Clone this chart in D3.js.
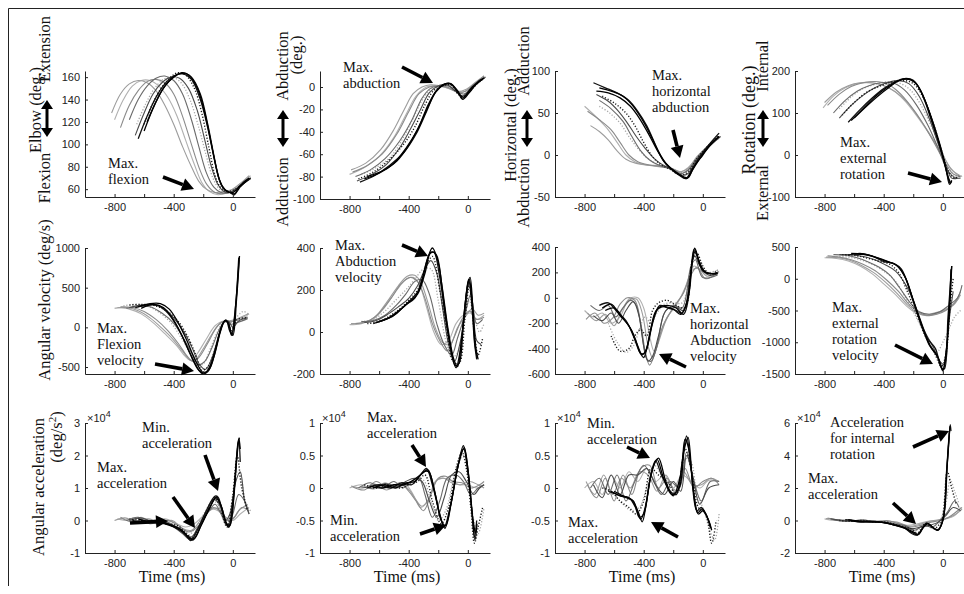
<!DOCTYPE html>
<html>
<head>
<meta charset="utf-8">
<script src="https://cdn.jsdelivr.net/npm/d3@7"></script>
<style>
  body { margin: 0; background: #fff; }
  svg { display: block; }
  .serif { font-family: "Liberation Serif", "Times New Roman", serif; fill: #111; }
  .axis text { font-family: "Liberation Sans", Arial, sans-serif; font-size: 11px; fill: #222; }
  .axis path, .axis line { stroke: #222; }
</style>
</head>
<body>
<div id="viz"></div>
<script>
// ---- data: each panel is a list of trials, each trial is [time (ms), value] ----
// trial order in every panel: light greys first, then greys, dotted, blacks last
const elbowAngle = [
  [[-800,122],[-740,140],[-680,152],[-620,157],[-560,157],[-500,152],[-440,142],[-380,126],[-320,104],[-260,82],[-210,66],[-160,58],[-100,55],[-40,57],[20,62],[80,68],[120,72]],
  [[-820,128],[-760,145],[-700,154],[-640,157],[-580,155],[-520,148],[-460,135],[-400,118],[-340,98],[-280,80],[-230,67],[-180,60],[-120,57],[-60,58],[0,60],[60,66],[110,72]],
  [[-650,118],[-590,136],[-530,150],[-470,158],[-410,160],[-350,155],[-290,140],[-230,115],[-180,90],[-135,70],[-90,60],[-40,57],[10,58],[60,64],[120,70]],
  [[-760,115],[-700,135],[-640,148],[-580,156],[-520,158],[-460,155],[-400,145],[-340,125],[-280,100],[-225,78],[-175,64],[-120,57],[-60,56],[0,58],[60,64],[120,70]],
  [[-700,122],[-640,140],[-580,152],[-520,159],[-460,161],[-400,157],[-340,145],[-280,122],[-230,98],[-180,75],[-130,62],[-80,57],[-30,57],[20,60],[80,66],[120,70]],
  [[-660,108],[-600,128],[-540,145],[-480,155],[-420,160],[-360,159],[-300,150],[-240,130],[-190,104],[-145,80],[-100,64],[-60,58],[-20,57],[30,61],[90,67],[120,69]],
  [[-600,118],[-540,137],[-480,151],[-420,160],[-370,164],[-320,162],[-260,150],[-210,128],[-160,96],[-120,72],[-80,61],[-40,58],[0,59],[50,63],[110,69]],
  [[-640,105],[-580,125],[-520,142],[-460,154],[-400,161],[-340,163],[-280,158],[-220,140],[-170,115],[-130,90],[-95,70],[-60,60],[-20,57],[10,55],[40,62],[80,66],[120,70]],
  [[-600,112],[-540,132],[-480,148],[-420,158],[-360,163],[-300,162],[-240,150],[-190,128],[-145,100],[-110,78],[-75,63],[-40,58],[0,57],[30,60],[70,66],[110,70]],
  [[-580,120],[-520,138],[-460,152],[-400,160],[-340,164],[-280,160],[-220,145],[-170,118],[-125,88],[-90,68],[-55,60],[-20,57],[15,56],[50,62],[100,68]]
];
const abductionAngle = [
  [[-800,-78],[-700,-72],[-600,-62],[-500,-45],[-420,-25],[-350,-8],[-280,0],[-220,1],[-160,0],[-100,-3],[-40,-5],[20,0],[100,8]],
  [[-790,-74],[-690,-68],[-590,-56],[-500,-38],[-430,-20],[-370,-6],[-310,0],[-250,2],[-190,1],[-130,-1],[-70,-4],[-10,-2],[50,4],[110,10]],
  [[-720,-78],[-620,-72],[-520,-62],[-440,-46],[-370,-28],[-310,-12],[-250,-2],[-190,2],[-130,1],[-70,-4],[-20,-6],[40,2],[110,9]],
  [[-780,-76],[-680,-70],[-580,-60],[-480,-42],[-400,-22],[-330,-6],[-260,0],[-200,1],[-140,0],[-80,-4],[-20,-4],[40,2],[110,10]],
  [[-760,-80],[-660,-74],[-560,-64],[-460,-48],[-380,-30],[-310,-10],[-250,-1],[-190,1],[-130,1],[-70,-5],[-20,-6],[40,2],[110,8]],
  [[-750,-84],[-650,-78],[-550,-69],[-460,-54],[-390,-38],[-320,-20],[-260,-5],[-200,1],[-140,2],[-90,-3],[-40,-8],[20,-2],[90,6],[120,9]],
  [[-740,-82],[-640,-76],[-540,-66],[-440,-52],[-360,-36],[-290,-16],[-230,-3],[-170,1],[-120,2],[-60,-7],[-20,-8],[40,0],[110,8]],
  [[-730,-85],[-630,-79],[-530,-70],[-430,-58],[-350,-42],[-280,-22],[-220,-5],[-160,2],[-120,3],[-70,-3],[-35,-10],[20,-2],[80,6],[110,8]],
  [[-700,-82],[-600,-77],[-500,-68],[-420,-55],[-340,-38],[-270,-18],[-210,-3],[-150,3],[-110,2],[-60,-6],[-30,-9],[30,0],[100,7]],
  [[-680,-80],[-580,-75],[-480,-66],[-400,-52],[-330,-35],[-265,-15],[-205,-2],[-150,3],[-115,3],[-70,-4],[-35,-11],[10,-5],[60,3],[110,8]]
];
const horizAngle = [
  [[-800,58],[-720,45],[-640,30],[-580,15],[-520,0],[-460,-8],[-380,-12],[-300,-14],[-220,-16],[-150,-20],[-100,-15],[-40,-3],[20,8],[100,22]],
  [[-760,35],[-700,28],[-640,18],[-580,5],[-520,-5],[-450,-10],[-370,-12],[-290,-13],[-210,-16],[-150,-20],[-100,-16],[-40,-2],[30,10],[110,20]],
  [[-700,58],[-630,50],[-560,38],[-500,22],[-440,8],[-380,-3],[-320,-10],[-250,-15],[-180,-20],[-120,-20],[-70,-12],[-10,0],[60,14],[120,22]],
  [[-780,52],[-700,42],[-620,30],[-560,15],[-500,0],[-440,-8],[-360,-12],[-280,-14],[-200,-17],[-140,-22],[-90,-16],[-30,-2],[40,10],[110,22]],
  [[-700,65],[-620,55],[-540,40],[-480,22],[-420,5],[-360,-6],[-300,-12],[-220,-16],[-150,-22],[-100,-18],[-40,-4],[30,10],[110,22]],
  [[-720,72],[-640,64],[-570,52],[-510,38],[-450,22],[-390,8],[-330,-4],[-270,-12],[-200,-18],[-140,-24],[-100,-22],[-50,-8],[10,4],[80,16],[120,22]],
  [[-680,70],[-600,62],[-520,50],[-460,35],[-400,15],[-340,-2],[-280,-12],[-220,-17],[-150,-24],[-100,-20],[-40,-4],[30,10],[110,24]],
  [[-740,86],[-660,80],[-580,74],[-500,65],[-440,52],[-380,35],[-320,12],[-270,-6],[-220,-16],[-160,-24],[-115,-28],[-70,-16],[-20,-2],[40,12],[110,26]],
  [[-700,80],[-620,76],[-540,70],[-480,60],[-420,45],[-360,26],[-300,4],[-250,-10],[-190,-20],[-130,-26],[-100,-27],[-60,-14],[0,0],[60,14],[110,22]],
  [[-720,76],[-640,74],[-560,68],[-490,58],[-430,44],[-370,26],[-310,6],[-260,-8],[-200,-18],[-145,-25],[-110,-28],[-70,-18],[-20,-4],[40,10],[110,22]]
];
const rotationAngle = [
  [[-810,112],[-740,140],[-660,160],[-580,170],[-500,172],[-420,168],[-340,155],[-260,130],[-180,95],[-100,55],[-20,10],[50,-30],[110,-50],[130,-50]],
  [[-800,125],[-720,150],[-640,165],[-560,172],[-480,172],[-400,165],[-320,150],[-240,125],[-160,88],[-80,45],[0,0],[60,-35],[120,-50]],
  [[-700,110],[-620,138],[-540,158],[-460,168],[-380,174],[-300,172],[-220,155],[-150,120],[-80,70],[-20,20],[40,-30],[90,-52],[130,-50]],
  [[-780,118],[-700,145],[-620,163],[-540,172],[-460,175],[-380,170],[-300,150],[-220,118],[-140,78],[-60,30],[10,-15],[70,-45],[120,-52]],
  [[-740,100],[-660,130],[-580,152],[-500,165],[-420,172],[-340,172],[-260,155],[-180,120],[-100,70],[-30,15],[30,-35],[90,-55],[120,-55]],
  [[-700,88],[-620,118],[-540,142],[-460,160],[-380,172],[-300,177],[-230,170],[-160,140],[-90,85],[-30,25],[20,-25],[60,-55],[100,-55]],
  [[-680,95],[-600,125],[-520,148],[-440,162],[-360,172],[-280,178],[-200,170],[-130,135],[-60,70],[0,0],[40,-40],[80,-55],[110,-50]],
  [[-640,78],[-560,108],[-480,135],[-400,158],[-320,175],[-260,182],[-200,178],[-140,145],[-80,85],[-20,20],[20,-30],[45,-70],[60,-60]],
  [[-600,88],[-520,115],[-440,140],[-360,162],[-290,178],[-230,180],[-170,165],[-110,120],[-50,60],[0,0],[30,-45],[50,-65]],
  [[-620,82],[-540,110],[-460,138],[-380,160],[-310,175],[-250,182],[-190,174],[-130,138],[-70,78],[-15,15],[25,-40],[50,-68],[60,-62]]
];
const elbowVel = [
  [[-780,250],[-700,230],[-620,170],[-540,60],[-460,-80],[-380,-230],[-320,-370],[-280,-420],[-240,-330],[-180,-150],[-120,20],[-60,80],[-20,60],[30,100],[100,150]],
  [[-800,240],[-720,250],[-640,210],[-560,120],[-480,-10],[-400,-160],[-340,-300],[-290,-410],[-250,-400],[-200,-270],[-140,-80],[-80,60],[-30,80],[20,100],[80,150],[110,170]],
  [[-740,270],[-660,290],[-580,270],[-500,190],[-420,60],[-350,-130],[-290,-320],[-240,-480],[-200,-460],[-150,-260],[-100,-40],[-60,80],[-20,60],[20,120],[70,200],[110,160]],
  [[-760,260],[-680,250],[-600,200],[-520,100],[-440,-40],[-370,-200],[-310,-360],[-270,-430],[-230,-380],[-170,-200],[-110,0],[-60,80],[-20,70],[30,90],[100,130]],
  [[-720,240],[-640,260],[-560,260],[-480,180],[-400,50],[-330,-150],[-270,-350],[-230,-470],[-190,-430],[-140,-250],[-90,-20],[-50,70],[-15,40],[30,60],[100,110]],
  [[-700,250],[-620,280],[-540,290],[-470,240],[-400,120],[-330,-60],[-270,-280],[-225,-470],[-185,-530],[-140,-380],[-95,-100],[-60,70],[-30,80],[0,0],[40,80],[100,120]],
  [[-700,280],[-620,290],[-540,280],[-460,220],[-380,100],[-310,-100],[-250,-350],[-210,-540],[-170,-500],[-120,-280],[-70,40],[-40,80],[-10,-40],[30,100],[100,120]],
  [[-660,250],[-580,280],[-500,270],[-440,180],[-380,20],[-320,-200],[-260,-440],[-210,-580],[-170,-560],[-130,-380],[-90,-80],[-55,80],[-30,60],[-10,-100],[15,200],[40,880]],
  [[-620,240],[-540,290],[-470,250],[-410,120],[-350,-80],[-290,-330],[-230,-540],[-190,-580],[-150,-470],[-110,-220],[-70,40],[-45,90],[-20,-50],[0,-100],[25,350],[45,900]],
  [[-640,260],[-560,300],[-490,300],[-430,230],[-370,60],[-310,-170],[-250,-430],[-200,-570],[-160,-530],[-120,-320],[-80,-30],[-50,90],[-25,20],[-5,-90],[20,300],[42,850]]
];
const abductionVel = [
  [[-800,35],[-720,40],[-640,60],[-560,120],[-480,200],[-420,250],[-370,260],[-330,230],[-280,120],[-230,0],[-180,-60],[-130,-40],[-80,40],[-30,80],[20,90],[60,60],[110,80]],
  [[-790,40],[-710,45],[-630,70],[-550,140],[-470,220],[-410,265],[-360,270],[-320,240],[-270,140],[-220,20],[-170,-50],[-120,-60],[-70,20],[-20,70],[30,110],[70,80],[110,90]],
  [[-720,50],[-640,60],[-560,100],[-490,150],[-420,200],[-360,250],[-300,300],[-250,300],[-200,150],[-150,-40],[-110,-120],[-70,-100],[-30,40],[10,150],[40,80],[80,0],[110,40]],
  [[-760,40],[-680,50],[-600,90],[-520,160],[-450,230],[-390,260],[-340,240],[-290,160],[-240,40],[-190,-40],[-140,-90],[-90,-20],[-40,60],[10,100],[60,60],[110,70]],
  [[-720,50],[-640,55],[-560,80],[-480,130],[-420,180],[-360,240],[-310,250],[-260,180],[-210,40],[-160,-60],[-110,-110],[-70,-30],[-20,80],[20,180],[60,40],[100,60]],
  [[-700,45],[-620,55],[-540,85],[-470,120],[-400,160],[-340,220],[-290,300],[-250,340],[-210,280],[-170,110],[-130,-60],[-90,-140],[-55,-60],[-20,80],[10,240],[35,120],[60,-40],[90,-60]],
  [[-680,40],[-600,50],[-520,80],[-460,110],[-400,150],[-340,200],[-290,300],[-240,360],[-190,200],[-140,0],[-100,-140],[-60,-150],[-20,60],[10,220],[40,20],[70,-110],[100,-30]],
  [[-640,40],[-560,60],[-480,90],[-420,130],[-360,160],[-310,250],[-260,370],[-230,380],[-190,260],[-150,60],[-110,-100],[-80,-170],[-50,-80],[-20,120],[5,250],[25,150],[45,-50],[60,-130]],
  [[-600,50],[-520,70],[-450,110],[-390,150],[-330,200],[-280,330],[-240,400],[-200,330],[-160,130],[-120,-60],[-85,-160],[-60,-150],[-30,40],[0,230],[15,260],[35,100],[55,-80],[70,-130]],
  [[-620,45],[-540,65],[-470,100],[-400,140],[-340,180],[-290,280],[-250,380],[-215,370],[-175,220],[-135,20],[-95,-130],[-70,-165],[-40,-20],[-10,180],[10,250],[30,130],[50,-70],[65,-125]]
];
const horizVel = [
  [[-800,-100],[-740,-150],[-680,-120],[-620,-200],[-560,-150],[-500,-10],[-440,0],[-400,-80],[-360,-300],[-330,-420],[-290,-300],[-240,-150],[-180,-60],[-120,80],[-60,250],[-20,220],[40,180],[110,200]],
  [[-780,-120],[-720,-180],[-660,-130],[-600,-220],[-550,-100],[-500,-20],[-450,-10],[-410,-120],[-370,-380],[-340,-470],[-300,-350],[-250,-180],[-190,-60],[-130,40],[-70,220],[-30,230],[30,170],[110,210]],
  [[-640,-200],[-580,-350],[-520,-430],[-470,-380],[-430,-250],[-390,-150],[-350,-200],[-310,-120],[-260,-50],[-200,-40],[-140,-40],[-90,150],[-60,320],[-20,280],[30,200],[100,220]],
  [[-790,-170],[-730,-120],[-670,-200],[-610,-160],[-560,-50],[-510,0],[-460,-20],[-420,-200],[-390,-420],[-360,-530],[-320,-420],[-270,-220],[-200,-80],[-140,20],[-80,180],[-40,240],[20,150],[100,200]],
  [[-760,-60],[-700,-100],[-640,-60],[-590,-150],[-540,-80],[-490,-20],[-450,-60],[-410,-300],[-380,-480],[-350,-500],[-310,-380],[-260,-120],[-200,-60],[-140,-80],[-80,250],[-50,300],[0,160],[100,180]],
  [[-740,-140],[-680,-180],[-620,-120],[-570,-200],[-520,-100],[-470,-30],[-430,-150],[-400,-380],[-370,-500],[-340,-460],[-300,-300],[-250,-100],[-190,-70],[-130,-100],[-90,150],[-55,330],[-20,250],[40,180],[100,190]],
  [[-620,-300],[-560,-420],[-500,-400],[-460,-300],[-420,-250],[-380,-300],[-340,-100],[-300,-40],[-240,-20],[-180,-60],[-120,-80],[-70,300],[-40,350],[0,250],[50,180],[100,220]],
  [[-700,-60],[-640,-40],[-580,-110],[-520,-180],[-470,-300],[-430,-420],[-400,-470],[-370,-350],[-330,-150],[-290,-60],[-240,-80],[-180,-100],[-130,-130],[-90,60],[-60,380],[-30,300],[0,210],[60,190],[100,200]],
  [[-660,-100],[-600,-80],[-540,-160],[-480,-260],[-440,-380],[-410,-450],[-380,-400],[-340,-200],[-300,-80],[-240,-60],[-180,-80],[-140,-120],[-100,0],[-70,300],[-50,370],[-20,260],[20,200],[100,190]],
  [[-680,-80],[-620,-50],[-560,-140],[-500,-220],[-450,-350],[-420,-440],[-390,-430],[-355,-260],[-315,-100],[-260,-70],[-200,-90],[-150,-130],[-110,-40],[-80,200],[-55,390],[-25,290],[10,210],[70,190],[100,195]]
];
const rotationVel = [
  [[-800,330],[-720,320],[-640,280],[-560,200],[-480,80],[-400,-80],[-320,-250],[-250,-420],[-180,-540],[-120,-570],[-60,-540],[0,-500],[60,-420],[110,-300]],
  [[-790,340],[-710,330],[-630,290],[-550,210],[-470,100],[-390,-50],[-310,-230],[-240,-410],[-170,-540],[-110,-580],[-50,-550],[10,-500],[70,-420],[120,-250]],
  [[-720,350],[-640,340],[-560,300],[-480,230],[-400,120],[-320,-40],[-240,-350],[-170,-650],[-100,-950],[-40,-1150],[0,-1000],[40,-800],[80,-600],[120,-500]],
  [[-780,360],[-700,340],[-620,300],[-540,230],[-460,130],[-380,-20],[-300,-200],[-230,-400],[-160,-530],[-100,-580],[-40,-560],[20,-500],[80,-380],[120,-200]],
  [[-740,380],[-660,370],[-580,330],[-500,260],[-430,180],[-360,60],[-290,-150],[-220,-380],[-160,-520],[-90,-560],[-20,-520],[40,-420],[100,-300],[130,-100]],
  [[-700,380],[-620,380],[-540,350],[-460,300],[-390,220],[-320,120],[-250,-100],[-190,-400],[-130,-800],[-70,-1050],[-20,-1300],[10,-1350],[40,-700],[70,-200]],
  [[-680,380],[-600,370],[-520,330],[-440,280],[-360,230],[-300,100],[-240,-200],[-180,-550],[-120,-900],[-60,-1150],[-10,-1380],[20,-1200],[50,-400],[70,0]],
  [[-640,370],[-560,400],[-480,360],[-400,270],[-330,240],[-280,150],[-220,-200],[-160,-600],[-100,-950],[-50,-1100],[-10,-1400],[10,-1420],[35,-600],[60,200]],
  [[-620,400],[-540,390],[-460,340],[-390,280],[-320,220],[-260,50],[-200,-350],[-140,-750],[-90,-1050],[-40,-1200],[0,-1450],[20,-1200],[45,-400],[55,150]],
  [[-600,390],[-520,380],[-440,330],[-370,270],[-310,210],[-250,0],[-190,-420],[-130,-820],[-80,-1080],[-30,-1250],[0,-1430],[25,-1100],[50,-300],[60,200]]
];
const elbowAcc = [
  [[-780,0.05],[-700,0.0],[-620,0.1],[-540,-0.05],[-460,0.05],[-380,-0.1],[-320,-0.2],[-260,-0.1],[-200,0.15],[-140,0.35],[-100,0.3],[-50,0.1],[0,0.0],[50,0.2],[110,0.4]],
  [[-800,0.0],[-730,0.08],[-650,-0.05],[-570,0.05],[-490,-0.08],[-410,0.0],[-340,-0.25],[-280,-0.3],[-220,0.0],[-160,0.3],[-110,0.38],[-60,0.15],[-10,0.0],[40,0.3],[100,0.5]],
  [[-740,0.05],[-660,-0.05],[-580,0.05],[-500,-0.1],[-420,-0.05],[-350,-0.3],[-300,-0.45],[-250,-0.2],[-190,0.25],[-140,0.6],[-100,0.5],[-50,0.0],[-10,0.3],[30,1.5],[60,1.2],[90,0.5],[120,0.3]],
  [[-760,0.1],[-680,-0.05],[-600,0.05],[-520,-0.1],[-440,0.0],[-370,-0.15],[-300,-0.35],[-240,-0.2],[-180,0.2],[-130,0.4],[-80,0.25],[-40,0.0],[10,0.1],[60,0.4],[110,0.3]],
  [[-720,0.0],[-640,0.1],[-560,-0.1],[-480,0.0],[-400,-0.15],[-330,-0.4],[-280,-0.5],[-220,-0.1],[-160,0.3],[-120,0.5],[-80,0.2],[-40,-0.15],[0,0.2],[40,0.8],[80,0.6],[110,0.2]],
  [[-700,0.0],[-620,0.08],[-540,-0.05],[-460,-0.05],[-400,-0.2],[-340,-0.4],[-290,-0.58],[-240,-0.25],[-180,0.25],[-130,0.65],[-90,0.5],[-50,0.0],[-20,0.2],[20,1.2],[50,1.5],[80,0.6],[110,0.2]],
  [[-700,0.05],[-620,0.0],[-540,-0.05],[-460,-0.1],[-380,-0.15],[-320,-0.35],[-280,-0.55],[-230,-0.2],[-170,0.3],[-120,0.7],[-80,0.3],[-40,-0.2],[0,0.8],[30,2.0],[60,1.0],[100,0.3]],
  [[-680,0.0],[-600,-0.05],[-520,0.0],[-440,-0.1],[-380,-0.2],[-330,-0.35],[-285,-0.62],[-240,-0.3],[-180,0.3],[-120,0.75],[-100,0.72],[-60,0.1],[-30,-0.2],[0,0.6],[20,1.6],[40,2.5],[50,1.8]],
  [[-640,0.05],[-560,-0.05],[-480,-0.05],[-420,-0.15],[-360,-0.25],[-300,-0.5],[-270,-0.6],[-220,-0.2],[-160,0.35],[-115,0.7],[-80,0.45],[-40,-0.1],[-20,-0.15],[10,1.0],[35,2.4],[45,2.55]],
  [[-620,0.0],[-540,-0.05],[-460,-0.1],[-400,-0.2],[-340,-0.35],[-295,-0.55],[-260,-0.55],[-210,-0.1],[-150,0.45],[-110,0.72],[-75,0.4],[-45,-0.1],[-25,-0.2],[0,0.4],[25,1.8],[42,2.5],[50,2.2]]
];
const abductionAcc = [
  [[-800,0.0],[-720,0.05],[-640,-0.02],[-560,0.08],[-480,0.0],[-420,0.05],[-370,-0.1],[-320,-0.3],[-270,-0.2],[-220,0.1],[-170,0.15],[-120,0.12],[-60,0.05],[0,0.05],[60,0.0],[110,0.05]],
  [[-790,0.03],[-710,0.0],[-630,0.06],[-550,-0.03],[-470,0.05],[-410,0.0],[-360,-0.15],[-310,-0.28],[-260,-0.15],[-210,0.12],[-160,0.15],[-110,0.08],[-50,0.05],[10,0.1],[70,0.05],[110,0.0]],
  [[-720,0.0],[-640,0.05],[-560,0.0],[-480,0.05],[-410,0.05],[-350,0.15],[-300,0.12],[-250,-0.2],[-200,-0.5],[-150,-0.35],[-100,0.1],[-60,0.4],[-25,0.5],[10,0.1],[40,-0.5],[70,-0.7],[110,-0.3]],
  [[-780,0.02],[-700,-0.03],[-620,0.1],[-540,0.0],[-460,0.08],[-400,-0.05],[-350,-0.2],[-300,-0.35],[-250,-0.1],[-200,0.15],[-150,0.18],[-100,0.1],[-40,0.08],[20,0.0],[80,0.05],[110,0.1]],
  [[-740,0.0],[-660,0.08],[-580,0.0],[-500,0.1],[-440,0.0],[-380,0.1],[-330,0.15],[-290,-0.1],[-240,-0.45],[-190,-0.2],[-140,0.15],[-80,0.2],[-30,0.1],[20,-0.1],[70,0.0],[110,0.05]],
  [[-720,0.02],[-640,0.0],[-560,0.07],[-480,0.02],[-420,0.1],[-360,0.15],[-310,0.1],[-260,-0.2],[-210,-0.45],[-160,-0.15],[-110,0.2],[-60,0.25],[-10,0.1],[40,-0.1],[80,0.0],[110,0.05]],
  [[-700,0.05],[-620,0.0],[-540,0.05],[-460,0.0],[-400,0.05],[-340,0.1],[-290,0.2],[-240,-0.2],[-180,-0.55],[-130,-0.3],[-80,0.3],[-40,0.55],[-10,0.3],[20,-0.3],[45,-0.85],[70,-0.6],[100,-0.3]],
  [[-680,0.0],[-600,0.05],[-520,0.0],[-450,0.08],[-380,0.05],[-320,0.2],[-280,0.3],[-240,0.05],[-190,-0.4],[-160,-0.6],[-120,-0.3],[-70,0.3],[-30,0.65],[0,0.3],[25,-0.3],[45,-0.75],[60,-0.5]],
  [[-640,0.0],[-560,0.05],[-490,0.0],[-420,0.08],[-360,0.1],[-300,0.25],[-265,0.25],[-220,-0.1],[-180,-0.5],[-150,-0.58],[-110,-0.2],[-60,0.4],[-25,0.62],[5,0.2],[30,-0.4],[50,-0.7]],
  [[-660,0.03],[-580,0.0],[-500,0.05],[-430,0.05],[-370,0.12],[-310,0.22],[-270,0.28],[-230,0.0],[-185,-0.45],[-155,-0.62],[-115,-0.25],[-65,0.35],[-28,0.6],[0,0.25],[28,-0.35],[48,-0.8],[62,-0.55]]
];
const horizAcc = [
  [[-800,0.0],[-740,0.1],[-680,-0.1],[-620,0.2],[-560,0.0],[-500,0.25],[-440,0.1],[-380,0.3],[-320,0.1],[-260,0.2],[-200,0.0],[-140,0.2],[-80,0.1],[-20,0.0],[40,0.12],[110,0.1]],
  [[-790,0.1],[-730,-0.1],[-670,0.2],[-610,-0.1],[-550,0.15],[-490,0.0],[-430,0.25],[-370,0.2],[-310,-0.05],[-250,0.2],[-190,-0.05],[-130,0.25],[-70,0.05],[-10,0.05],[50,0.15],[110,0.1]],
  [[-660,0.0],[-600,-0.1],[-540,-0.25],[-480,-0.35],[-430,-0.3],[-380,0.0],[-330,0.35],[-280,0.2],[-220,0.05],[-170,-0.05],[-120,0.45],[-80,0.4],[-40,-0.1],[0,-0.3],[40,-0.6],[80,-0.8],[110,-0.4]],
  [[-780,0.05],[-720,-0.15],[-660,0.15],[-600,-0.2],[-540,0.2],[-480,-0.1],[-420,0.3],[-360,0.35],[-300,0.0],[-240,0.15],[-180,-0.1],[-120,0.3],[-60,0.0],[0,0.1],[60,0.15],[110,0.05]],
  [[-760,0.0],[-700,0.15],[-640,-0.1],[-580,0.2],[-520,-0.2],[-460,0.1],[-400,0.35],[-340,0.15],[-280,-0.1],[-220,0.1],[-160,0.0],[-110,0.55],[-60,0.1],[-10,-0.2],[50,0.1],[110,0.1]],
  [[-740,0.05],[-680,-0.15],[-620,0.2],[-560,-0.1],[-500,0.2],[-440,0.2],[-380,0.3],[-320,0.05],[-260,-0.1],[-200,0.1],[-150,-0.05],[-110,0.5],[-70,0.2],[-20,-0.25],[40,0.0],[110,0.05]],
  [[-680,0.0],[-620,-0.05],[-560,-0.2],[-500,-0.3],[-450,-0.4],[-400,-0.2],[-350,0.3],[-300,0.2],[-240,0.1],[-180,-0.1],[-120,0.6],[-80,0.3],[-30,-0.3],[20,-0.4],[60,-0.85],[90,-0.5]],
  [[-640,-0.05],[-580,-0.1],[-520,-0.15],[-470,-0.2],[-430,-0.45],[-400,-0.4],[-360,0.1],[-320,0.42],[-280,0.2],[-220,-0.05],[-180,-0.1],[-140,0.4],[-110,0.8],[-80,0.3],[-40,-0.35],[-10,-0.3],[20,-0.4],[50,-0.6]],
  [[-600,-0.05],[-540,-0.12],[-480,-0.18],[-440,-0.35],[-410,-0.52],[-380,-0.2],[-340,0.3],[-300,0.46],[-250,0.1],[-200,-0.12],[-150,0.2],[-120,0.75],[-95,0.6],[-60,-0.1],[-30,-0.4],[0,-0.35],[40,-0.5],[60,-0.65]],
  [[-620,-0.05],[-560,-0.12],[-500,-0.15],[-455,-0.3],[-420,-0.48],[-390,-0.3],[-350,0.2],[-310,0.44],[-265,0.15],[-210,-0.1],[-160,0.0],[-125,0.6],[-100,0.78],[-70,0.1],[-35,-0.38],[-5,-0.32],[30,-0.45],[55,-0.62]]
];
const rotationAcc = [
  [[-800,0.1],[-720,0.0],[-640,0.05],[-560,-0.1],[-480,0.0],[-400,-0.1],[-320,-0.15],[-240,-0.3],[-170,-0.2],[-100,-0.05],[-40,0.0],[20,0.1],[80,0.3],[120,0.8]],
  [[-790,0.12],[-710,0.05],[-630,-0.05],[-550,0.05],[-470,-0.05],[-390,-0.05],[-310,-0.1],[-230,-0.35],[-160,-0.25],[-90,-0.05],[-30,0.05],[30,0.15],[90,0.4],[130,0.7]],
  [[-720,0.05],[-640,0.0],[-560,-0.05],[-480,-0.05],[-400,-0.1],[-320,-0.25],[-240,-0.4],[-180,-0.6],[-130,-0.3],[-70,-0.4],[-20,0.0],[20,1.0],[50,2.5],[80,1.8],[110,1.0]],
  [[-780,0.15],[-700,0.0],[-620,-0.05],[-540,0.05],[-460,-0.1],[-380,0.0],[-300,-0.2],[-220,-0.4],[-150,-0.3],[-80,-0.1],[-20,0.0],[40,0.2],[100,0.6],[130,0.8]],
  [[-740,0.05],[-660,-0.05],[-580,0.0],[-500,-0.1],[-420,-0.05],[-340,-0.2],[-260,-0.3],[-190,-0.6],[-130,-0.3],[-70,-0.4],[-20,0.0],[30,0.5],[80,1.2],[110,0.8]],
  [[-760,0.1],[-680,0.0],[-600,-0.05],[-520,0.0],[-440,-0.1],[-360,-0.15],[-280,-0.35],[-210,-0.5],[-150,-0.4],[-90,-0.3],[-30,-0.1],[20,0.3],[70,0.8],[120,0.6]],
  [[-700,0.0],[-620,-0.05],[-540,0.0],[-460,-0.1],[-380,-0.1],[-300,-0.3],[-220,-0.5],[-170,-0.75],[-120,-0.2],[-60,-0.5],[-10,0.0],[30,3.0],[60,2.0],[90,1.0]],
  [[-660,0.05],[-580,-0.05],[-500,-0.05],[-420,-0.1],[-340,-0.25],[-270,-0.4],[-210,-0.8],[-175,-0.9],[-140,-0.5],[-110,-0.15],[-70,-0.4],[-35,-0.6],[0,0.0],[25,3.0],[50,5.9],[55,5.5]],
  [[-620,0.0],[-540,-0.1],[-460,-0.05],[-390,-0.15],[-320,-0.3],[-250,-0.5],[-200,-0.7],[-165,-0.85],[-130,-0.4],[-100,-0.2],[-60,-0.5],[-30,-0.55],[5,0.2],[30,3.5],[45,5.5]],
  [[-640,0.05],[-560,-0.05],[-480,-0.1],[-400,-0.12],[-330,-0.28],[-260,-0.45],[-205,-0.75],[-170,-0.88],[-135,-0.45],[-105,-0.18],[-65,-0.45],[-32,-0.6],[2,0.1],[28,3.2],[48,5.8]]
];

// tick values
const xTickMarks = [-800, -600, -400, -200, 0];
const xTickLabels = [-800, -400, 0];
const yTicksElbowAngle = [60, 80, 100, 120, 140, 160];
const yTicksAbdAngle = [-100, -80, -60, -40, -20, 0];
const yTicksHorizAngle = [-50, 0, 50, 100];
const yTicksRotAngle = [-100, 0, 100, 200];
const yTicksElbowVel = [-500, 0, 500, 1000];
const yTicksAbdVel = [-200, 0, 200, 400];
const yTicksHorizVel = [-600, -400, -200, 0, 200, 400];
const yTicksRotVel = [-1500, -1000, -500, 0, 500];
const yTicksElbowAcc = [-1, 0, 1, 2, 3];
const yTicksAbdAcc = [-1, -0.5, 0, 0.5, 1];
const yTicksHorizAcc = [-1, -0.5, 0, 0.5, 1];
const yTicksRotAcc = [-2, 0, 2, 4, 6];

// ---- layout ----
const W = 964, H = 594;
const colLeft = [85, 320, 555, 795];
const plotW = 170;        // -1000 .. 150 ms
const xDomain = [-1000, 150];

const panels = [
  { data: elbowAngle,    col: 0, y: [197, 71],  dom: [53, 165.5],  ticks: yTicksElbowAngle },
  { data: abductionAngle,col: 1, y: [199, 71],  dom: [-100, 14.3], ticks: yTicksAbdAngle },
  { data: horizAngle,    col: 2, y: [197, 71],  dom: [-50, 100],   ticks: yTicksHorizAngle },
  { data: rotationAngle, col: 3, y: [197, 71],  dom: [-100, 200],  ticks: yTicksRotAngle },
  { data: elbowVel,      col: 0, y: [374, 248], dom: [-588, 1000], ticks: yTicksElbowVel },
  { data: abductionVel,  col: 1, y: [374, 248], dom: [-200, 400],  ticks: yTicksAbdVel },
  { data: horizVel,      col: 2, y: [374, 247], dom: [-600, 400],  ticks: yTicksHorizVel },
  { data: rotationVel,   col: 3, y: [374, 247], dom: [-1500, 500], ticks: yTicksRotVel },
  { data: elbowAcc,      col: 0, y: [553, 423], dom: [-1, 3],      ticks: yTicksElbowAcc, sci: true },
  { data: abductionAcc,  col: 1, y: [553, 423], dom: [-1, 1],      ticks: yTicksAbdAcc, sci: true },
  { data: horizAcc,      col: 2, y: [553, 423], dom: [-1, 1],      ticks: yTicksHorizAcc, sci: true },
  { data: rotationAcc,   col: 3, y: [553, 423], dom: [-2, 6],      ticks: yTicksRotAcc, sci: true }
];

// line styles, one per trial slot
const trialStyle = [
  { stroke: "#b0b0b0", width: 1.1, dash: null },
  { stroke: "#9c9c9c", width: 1.1, dash: null },
  { stroke: "#a8a8a8", width: 1.3, dash: "1.2,1.8" },
  { stroke: "#8a8a8a", width: 1.1, dash: null },
  { stroke: "#6a6a6a", width: 1.1, dash: null },
  { stroke: "#4a4a4a", width: 1.1, dash: null },
  { stroke: "#1a1a1a", width: 1.4, dash: "1.2,1.8" },
  { stroke: "#111",    width: 1.3, dash: null },
  { stroke: "#000",    width: 1.3, dash: null },
  { stroke: "#000",    width: 1.3, dash: null }
];

const svg = d3.select("#viz").append("svg")
  .attr("width", W).attr("height", H)
  .attr("viewBox", `0 0 ${W} ${H}`);

// outer frame (top and left edges visible)
svg.append("path")
  .attr("d", "M8.5,586V8.5H964")
  .attr("fill", "none").attr("stroke", "#222").attr("stroke-width", 1);

panels.forEach(p => {
  const left = colLeft[p.col];
  const x = d3.scaleLinear().domain(xDomain).range([left, left + plotW]);
  const y = d3.scaleLinear().domain(p.dom).range(p.y);
  const g = svg.append("g");

  const line = d3.line()
    .x(d => x(d[0])).y(d => y(d[1]))
    .curve(d3.curveCatmullRom.alpha(0.5));

  g.selectAll("path.trial")
    .data(p.data)
    .join("path")
    .attr("class", "trial")
    .attr("d", line)
    .attr("fill", "none")
    .attr("stroke", (d, i) => trialStyle[i].stroke)
    .attr("stroke-width", (d, i) => trialStyle[i].width)
    .attr("stroke-dasharray", (d, i) => trialStyle[i].dash)
    .attr("stroke-linejoin", "round");

  // x axis
  g.append("g")
    .attr("class", "axis")
    .attr("transform", `translate(0,${p.y[0]})`)
    .call(d3.axisBottom(x)
      .tickValues(xTickMarks)
      .tickSizeInner(-3).tickSizeOuter(0).tickPadding(6)
      .tickFormat(d => xTickLabels.includes(d) ? String(d) : ""));

  // y axis
  g.append("g")
    .attr("class", "axis")
    .attr("transform", `translate(${left},0)`)
    .call(d3.axisLeft(y)
      .tickValues(p.ticks)
      .tickSizeInner(-3).tickSizeOuter(0).tickPadding(5)
      .tickFormat(d => String(d)));

  if (p.sci) {
    const t = g.append("text")
      .attr("x", left + 2).attr("y", p.y[1] - 1)
      .style("font-family", "Liberation Sans, Arial, sans-serif")
      .style("font-size", "11px").attr("fill", "#222");
    t.append("tspan").text("\u00d710");
    t.append("tspan").attr("dy", -5).style("font-size", "9px").text("4");
  }
});

// ---- y-axis titles (rotated, serif) ----
function vtext(x, y, str, size) {
  return svg.append("text")
    .attr("class", "serif")
    .attr("transform", `translate(${x},${y}) rotate(-90)`)
    .attr("text-anchor", "middle")
    .style("font-size", (size || 16.5) + "px")
    .text(str);
}
vtext(41, 110, "Elbow (deg.)");
vtext(50, 49, "Extension");
vtext(50, 178, "Flexion");
vtext(288, 66, "Abduction");
vtext(302, 55, "(deg.)");
vtext(288, 192, "Adduction");
vtext(516, 125, "Horizontal (deg.)");
vtext(529, 61, "Adduction");
vtext(529, 193, "Abduction");
vtext(755, 120, "Rotation (deg.)", 18);
vtext(768, 66, "Internal");
vtext(768, 193, "External");
vtext(50, 300, "Angular velocity (deg/s)");
vtext(44, 487, "Angular acceleration");
const accUnit = vtext(62, 437, "(deg/s");
accUnit.append("tspan").attr("dy", -6).style("font-size", "11px").text("2");
accUnit.append("tspan").attr("dy", 6).text(")");

// ---- arrows ----
function arrow(x1, y1, x2, y2) {
  const ang = Math.atan2(y2 - y1, x2 - x1);
  const hl = 12, hw = 6.5;
  const bx = x2 - hl * Math.cos(ang), by = y2 - hl * Math.sin(ang);
  svg.append("line")
    .attr("x1", x1).attr("y1", y1).attr("x2", bx).attr("y2", by)
    .attr("stroke", "#000").attr("stroke-width", 3.6);
  const px = -Math.sin(ang) * hw, py = Math.cos(ang) * hw;
  svg.append("path")
    .attr("d", `M${x2},${y2}L${bx + px},${by + py}L${bx - px},${by - py}Z`)
    .attr("fill", "#000");
}
function dblArrow(x, y1, y2) {
  const hl = 9, hw = 6;
  svg.append("line")
    .attr("x1", x).attr("y1", y1 + hl - 1).attr("x2", x).attr("y2", y2 - hl + 1)
    .attr("stroke", "#000").attr("stroke-width", 3);
  svg.append("path").attr("d", `M${x},${y1}L${x - hw},${y1 + hl}L${x + hw},${y1 + hl}Z`).attr("fill", "#000");
  svg.append("path").attr("d", `M${x},${y2}L${x - hw},${y2 - hl}L${x + hw},${y2 - hl}Z`).attr("fill", "#000");
}
dblArrow(47, 100, 137);
dblArrow(283, 110, 147);
dblArrow(527, 110, 147);
dblArrow(763, 110, 147);

// ---- annotations ----
function note(x, y, lines) {
  const t = svg.append("text").attr("class", "serif").style("font-size", "14.5px");
  lines.forEach((s, i) => t.append("tspan").attr("x", x).attr("y", y + i * 16).text(s));
}
note(108, 168, ["Max.", "flexion"]);
arrow(163, 177, 194, 189);
note(343, 72, ["Max.", "abduction"]);
arrow(402, 67, 433, 83);
note(652, 80, ["Max.", "horizontal", "abduction"]);
arrow(673, 130, 680, 158);
note(840, 147, ["Max.", "external", "rotation"]);
arrow(908, 173, 942, 182);

note(97, 333, ["Max.", "Flexion", "velocity"]);
arrow(155, 364, 194, 371);
note(335, 250, ["Max.", "Abduction", "velocity"]);
arrow(402, 245, 428, 256);
note(690, 313, ["Max.", "horizontal", "Abduction", "velocity"]);
arrow(686, 367, 659, 354);
note(832, 312, ["Max.", "external", "rotation", "velocity"]);
arrow(895, 345, 933, 364);

note(142, 432, ["Min.", "acceleration"]);
arrow(205, 455, 218, 491);
note(97, 472, ["Max.", "acceleration"]);
arrow(173, 497, 195, 528);
arrow(130, 523, 168, 521);
note(367, 422, ["Max.", "acceleration"]);
arrow(412, 445, 426, 467);
note(330, 525, ["Min.", "acceleration"]);
arrow(420, 534, 446, 525);
note(587, 428, ["Min.", "acceleration"]);
arrow(627, 447, 650, 458);
note(568, 527, ["Max.", "acceleration"]);
arrow(678, 537, 651, 522);
note(830, 427, ["Acceleration", "for internal", "rotation"]);
arrow(913, 447, 949, 431);
note(808, 483, ["Max.", "acceleration"]);
arrow(893, 503, 916, 524);

// x-axis titles, bottom row
[0, 1, 2, 3].forEach(c => {
  svg.append("text").attr("class", "serif")
    .attr("x", colLeft[c] + 87).attr("y", 582)
    .attr("text-anchor", "middle")
    .style("font-size", "16px")
    .text("Time (ms)");
});
</script>
</body>
</html>
